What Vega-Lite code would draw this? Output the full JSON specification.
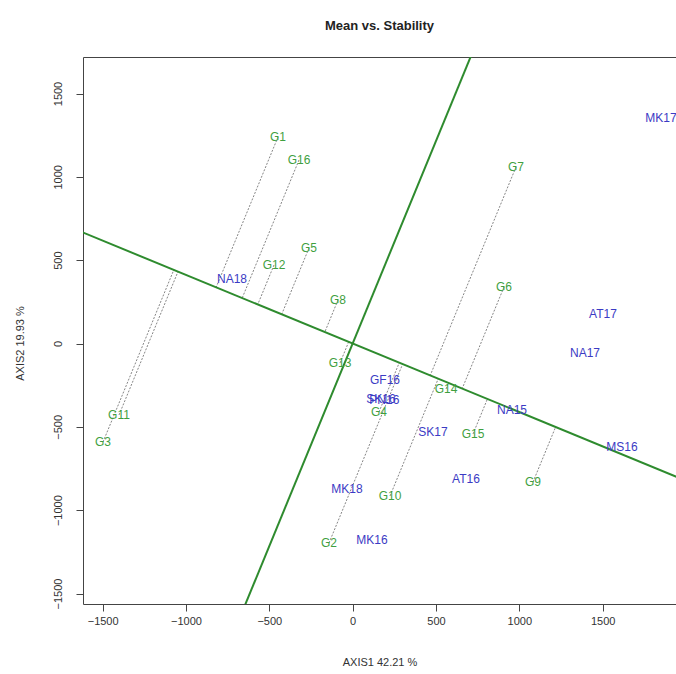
{
  "$schema": "https://vega.github.io/schema/vega-lite/v6.json",
  "autosize": {"type": "none"},
  "width": 593,
  "height": 547,
  "padding": {"left": 83, "top": 57, "right": 0, "bottom": 70},
  "background": "white",
  "config": {
    "view": {"stroke": "#444", "strokeWidth": 1},
    "font": "Liberation Sans"
  },
  "title": {
    "text": "Mean vs. Stability",
    "fontSize": 13,
    "fontWeight": "bold",
    "font": "Liberation Sans",
    "color": "#222",
    "anchor": "middle",
    "offset": 24
  },
  "datasets": {
    "points": [
      {"label": "G1", "type": "G", "x": -448, "y": 1239},
      {"label": "G16", "type": "G", "x": -322, "y": 1101},
      {"label": "G5", "type": "G", "x": -262, "y": 573},
      {"label": "G12", "type": "G", "x": -472, "y": 471},
      {"label": "G8", "type": "G", "x": -88, "y": 261},
      {"label": "G13", "type": "G", "x": -76, "y": -117},
      {"label": "G11", "type": "G", "x": -1402, "y": -429},
      {"label": "G3", "type": "G", "x": -1498, "y": -591},
      {"label": "G7", "type": "G", "x": 980, "y": 1059},
      {"label": "G6", "type": "G", "x": 908, "y": 339},
      {"label": "G14", "type": "G", "x": 560, "y": -273},
      {"label": "G15", "type": "G", "x": 722, "y": -543},
      {"label": "G4", "type": "G", "x": 158, "y": -411},
      {"label": "G10", "type": "G", "x": 224, "y": -915},
      {"label": "G9", "type": "G", "x": 1082, "y": -831},
      {"label": "G2", "type": "G", "x": -142, "y": -1197},
      {"label": "MK17", "type": "E", "x": 1850, "y": 1353},
      {"label": "AT17", "type": "E", "x": 1502, "y": 177},
      {"label": "NA17", "type": "E", "x": 1394, "y": -57},
      {"label": "NA18", "type": "E", "x": -724, "y": 387},
      {"label": "NA15", "type": "E", "x": 956, "y": -399},
      {"label": "MS16", "type": "E", "x": 1616, "y": -621},
      {"label": "AT16", "type": "E", "x": 680, "y": -813},
      {"label": "SK17", "type": "E", "x": 482, "y": -531},
      {"label": "GF16", "type": "E", "x": 194, "y": -219},
      {"label": "SK16", "type": "E", "x": 170, "y": -333},
      {"label": "PN16", "type": "E", "x": 190, "y": -339},
      {"label": "MK18", "type": "E", "x": -34, "y": -873},
      {"label": "MK16", "type": "E", "x": 116, "y": -1179}
    ],
    "atc": [
      {"line": "abscissa", "x": -1800, "y": 740.7, "x2": 2100, "y2": -864.2},
      {"line": "ordinate", "x": -740.7, "y": -1800, "x2": 781.8, "y2": 1900}
    ],
    "proj": [
      {"label": "G1", "x": -448, "y": 1239, "x2": -819.1, "y2": 337.1},
      {"label": "G16", "x": -322, "y": 1101, "x2": -662.9, "y2": 272.8},
      {"label": "G5", "x": -262, "y": 573, "x2": -425.7, "y2": 175.2},
      {"label": "G12", "x": -472, "y": 471, "x2": -569.4, "y2": 234.3},
      {"label": "G8", "x": -88, "y": 261, "x2": -167.1, "y2": 68.8},
      {"label": "G13", "x": -76, "y": -117, "x2": -23.9, "y2": 9.8},
      {"label": "G11", "x": -1402, "y": -429, "x2": -1048.0, "y2": 431.3},
      {"label": "G3", "x": -1498, "y": -591, "x2": -1073.1, "y2": 441.6},
      {"label": "G7", "x": 980, "y": 1059, "x2": 465.4, "y2": -191.5},
      {"label": "G6", "x": 908, "y": 339, "x2": 657.2, "y2": -270.4},
      {"label": "G14", "x": 560, "y": -273, "x2": 575.0, "y2": -236.6},
      {"label": "G15", "x": 722, "y": -543, "x2": 808.5, "y2": -332.7},
      {"label": "G4", "x": 158, "y": -411, "x2": 279.7, "y2": -115.1},
      {"label": "G10", "x": 224, "y": -915, "x2": 513.5, "y2": -211.3},
      {"label": "G9", "x": 1082, "y": -831, "x2": 1217.7, "y2": -501.1},
      {"label": "G2", "x": -142, "y": -1197, "x2": 299.8, "y2": -123.4}
    ]
  },
  "encoding": {
    "x": {
      "type": "quantitative",
      "scale": {"domain": [-1618, 1940], "nice": false, "zero": false},
      "axis": {
        "values": [-1500, -1000, -500, 0, 500, 1000, 1500],
        "format": "d",
        "grid": false,
        "domain": false,
        "tickSize": 7,
        "tickColor": "#444",
        "labelPadding": 4,
        "labelFontSize": 11,
        "labelColor": "#333",
        "labelFont": "Liberation Sans",
        "labelFlush": false,
        "labelOverlap": false,
        "title": "AXIS1 42.21 %",
        "titleFont": "Liberation Sans",
        "titleFontSize": 11,
        "titleFontWeight": "normal",
        "titleColor": "#333",
        "titleY": 58,
        "titleBaseline": "middle"
      }
    },
    "y": {
      "type": "quantitative",
      "scale": {"domain": [-1563, 1719], "nice": false, "zero": false},
      "axis": {
        "values": [-1500, -1000, -500, 0, 500, 1000, 1500],
        "format": "d",
        "grid": false,
        "domain": false,
        "tickSize": 7,
        "tickColor": "#444",
        "labelAngle": -90,
        "labelAlign": "center",
        "labelBaseline": "bottom",
        "labelPadding": 13,
        "labelFontSize": 11,
        "labelColor": "#333",
        "labelFont": "Liberation Sans",
        "labelFlush": false,
        "labelOverlap": false,
        "title": "AXIS2 19.93 %",
        "titleFont": "Liberation Sans",
        "titleFontSize": 11,
        "titleFontWeight": "normal",
        "titleColor": "#333",
        "titleAngle": -90,
        "titleX": -63,
        "titleY": 286,
        "titleAlign": "center",
        "titleBaseline": "middle"
      }
    }
  },
  "layer": [
    {
      "mark": {"type": "rule", "color": "#777", "strokeDash": [2, 2], "strokeWidth": 1},
      "encoding": {"x": {"datum": 0}}
    },
    {
      "mark": {"type": "rule", "color": "#777", "strokeDash": [2, 2], "strokeWidth": 1},
      "encoding": {"y": {"datum": 0}}
    },
    {
      "data": {"name": "proj"},
      "mark": {"type": "rule", "color": "#666", "strokeDash": [2, 1.5], "strokeWidth": 0.8},
      "encoding": {
        "x": {"field": "x", "type": "quantitative"},
        "y": {"field": "y", "type": "quantitative"},
        "x2": {"field": "x2"},
        "y2": {"field": "y2"}
      }
    },
    {
      "data": {"name": "atc"},
      "mark": {"type": "rule", "color": "#2e8b2e", "strokeWidth": 2, "clip": true},
      "encoding": {
        "x": {"field": "x", "type": "quantitative"},
        "y": {"field": "y", "type": "quantitative"},
        "x2": {"field": "x2"},
        "y2": {"field": "y2"}
      }
    },
    {
      "data": {"name": "points"},
      "mark": {"type": "text", "fontSize": 12, "font": "Liberation Sans", "align": "center", "baseline": "middle"},
      "encoding": {
        "x": {"field": "x", "type": "quantitative"},
        "y": {"field": "y", "type": "quantitative"},
        "text": {"field": "label"},
        "color": {
          "field": "type",
          "type": "nominal",
          "scale": {"domain": ["G", "E"], "range": ["#3f9f3f", "#3b3bc4"]},
          "legend": null
        }
      }
    }
  ]
}
